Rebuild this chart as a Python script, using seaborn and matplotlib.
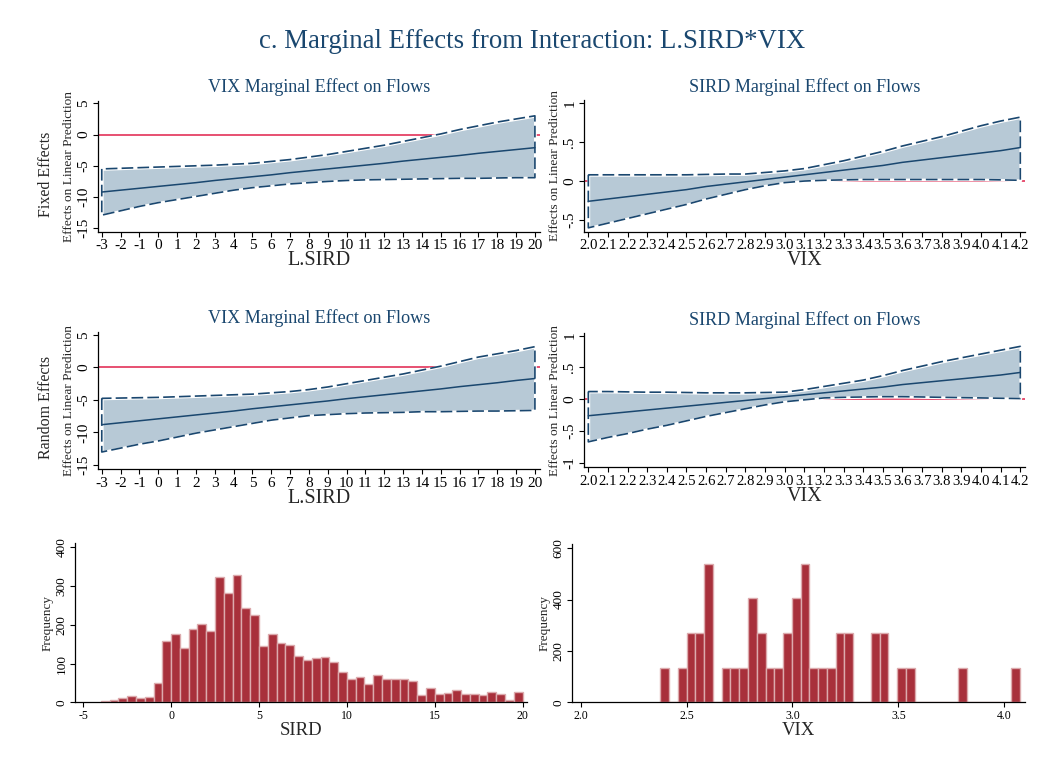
import numpy as np
import pandas as pd
import matplotlib
matplotlib.use("Agg")
import matplotlib.pyplot as plt
import seaborn as sns

# ---------------- data ----------------
sird_x = list(range(-3, 21))
fe_vix_mean = [-9.2, -8.9, -8.6, -8.3, -8.0, -7.7, -7.35, -7.05, -6.75, -6.45, -6.1,
               -5.8, -5.5, -5.2, -4.9, -4.6, -4.25, -3.95, -3.65, -3.35, -3.0, -2.7, -2.4, -2.1]
fe_vix_lo = [-12.9, -12.2, -11.5, -10.9, -10.4, -9.9, -9.4, -8.9, -8.5, -8.2, -7.9, -7.7,
             -7.5, -7.35, -7.25, -7.2, -7.15, -7.1, -7.05, -7.0, -7.0, -6.95, -6.9, -6.9]
fe_vix_hi = [-5.5, -5.4, -5.3, -5.2, -5.1, -5.0, -4.9, -4.75, -4.6, -4.3, -4.0, -3.6,
             -3.2, -2.7, -2.2, -1.7, -1.1, -0.5, 0.1, 0.8, 1.4, 2.0, 2.5, 3.0]

re_vix_mean = [-8.8, -8.5, -8.2, -7.9, -7.6, -7.3, -7.0, -6.7, -6.35, -6.05, -5.75,
               -5.45, -5.15, -4.8, -4.5, -4.2, -3.9, -3.6, -3.3, -2.95, -2.65, -2.35, -2.0, -1.7]
re_vix_lo = [-13.0, -12.4, -11.8, -11.3, -10.7, -10.1, -9.6, -9.1, -8.6, -8.1, -7.75, -7.4,
             -7.25, -7.1, -7.0, -6.95, -6.9, -6.8, -6.8, -6.75, -6.7, -6.7, -6.65, -6.6]
re_vix_hi = [-4.75, -4.7, -4.65, -4.6, -4.5, -4.4, -4.3, -4.2, -4.1, -3.9, -3.7, -3.4,
             -3.0, -2.5, -2.0, -1.5, -1.0, -0.4, 0.2, 0.9, 1.6, 2.1, 2.6, 3.2]

vix_x = [2.0, 2.1, 2.2, 2.3, 2.4, 2.5, 2.6, 2.7, 2.8, 2.9, 3.0, 3.1, 3.2, 3.3, 3.4, 3.5,
         3.6, 3.7, 3.8, 3.9, 4.0, 4.1, 4.2]
fe_sird_mean = [-0.26, -0.23, -0.20, -0.17, -0.14, -0.11, -0.07, -0.04, -0.01, 0.02, 0.05,
                0.08, 0.11, 0.14, 0.17, 0.20, 0.24, 0.27, 0.30, 0.33, 0.36, 0.39, 0.43]
fe_sird_lo = [-0.60, -0.54, -0.48, -0.42, -0.36, -0.30, -0.23, -0.17, -0.11, -0.06, -0.02,
              0.00, 0.01, 0.015, 0.02, 0.02, 0.02, 0.02, 0.02, 0.02, 0.02, 0.015, 0.01]
fe_sird_hi = [0.08, 0.08, 0.08, 0.08, 0.08, 0.08, 0.085, 0.09, 0.09, 0.11, 0.13, 0.16,
              0.21, 0.26, 0.32, 0.38, 0.45, 0.51, 0.57, 0.64, 0.71, 0.77, 0.82]

re_sird_mean = [-0.26, -0.23, -0.20, -0.17, -0.14, -0.11, -0.08, -0.05, -0.02, 0.01, 0.04,
                0.07, 0.10, 0.13, 0.16, 0.19, 0.23, 0.26, 0.29, 0.32, 0.35, 0.38, 0.42]
re_sird_lo = [-0.67, -0.60, -0.54, -0.47, -0.41, -0.34, -0.27, -0.21, -0.15, -0.09, -0.04,
              -0.01, 0.02, 0.03, 0.035, 0.04, 0.04, 0.035, 0.03, 0.025, 0.02, 0.015, 0.01]
re_sird_hi = [0.12, 0.12, 0.115, 0.11, 0.11, 0.105, 0.10, 0.10, 0.10, 0.105, 0.11, 0.15,
              0.20, 0.25, 0.30, 0.37, 0.45, 0.52, 0.59, 0.65, 0.71, 0.77, 0.83]

# SIRD histogram (bin width 0.5, starting at -4)
sird_bin_start = -4.0
sird_bin_width = 0.5
sird_counts = [4, 6, 12, 15, 12, 14, 49, 157, 177, 139, 188, 203, 185, 322, 281, 327,
               244, 224, 144, 177, 152, 148, 120, 109, 114, 118, 104, 79, 59, 65, 46, 70,
               59, 61, 59, 55, 18, 36, 22, 25, 31, 21, 21, 19, 27, 21, 5, 27]

# VIX histogram
vix_bin_start = 2.376
vix_bin_width = 0.0414
vix_counts = [135, 0, 135, 270, 270, 540, 0, 135, 135, 135, 405, 270, 135, 135, 270, 405,
              540, 135, 135, 135, 270, 270, 0, 0, 270, 270, 0, 135, 135, 0, 0, 0, 0, 0,
              135, 0, 0, 0, 0, 0, 135]

# ---------------- style ----------------
sns.set_theme(style="white")
plt.rcParams["font.family"] = ["Liberation Serif", "DejaVu Serif"]
plt.rcParams["mathtext.fontset"] = "stix"

NAVY = "#1a476f"
BAND = "#b7c9d6"
RED = "#e0204a"
BAR = "#a8303b"
BAR_EDGE = "#dcaaad"

W, H = 1054, 776
fig = plt.figure(figsize=(W / 100, H / 100), dpi=100)


def add_ax(x0, y0, x1, y1):
    return fig.add_axes([x0 / W, 1 - y1 / H, (x1 - x0) / W, (y1 - y0) / H])


def style_axes(ax):
    for s in ["top", "right"]:
        ax.spines[s].set_visible(False)
    for s in ["left", "bottom"]:
        ax.spines[s].set_color("black")
        ax.spines[s].set_linewidth(0.9)
    ax.tick_params(axis="both", which="major", direction="out", length=3.5, width=0.8,
                   color="black", labelcolor="black", pad=2, left=True, bottom=True)
    ax.tick_params(axis="y", labelrotation=90)
    for lab in ax.get_yticklabels():
        lab.set_va("center")
    ax.grid(False)
    ax.set_facecolor("white")


def me_panel(ax, x, mean, lo, hi, xlim, ylim, yticks, yticklabels, xticks, xticklabels,
             title, xlabel, tick_fs):
    ax.axhline(0, color=RED, lw=1.1, zorder=1)
    ax.fill_between(x, lo, hi, facecolor=BAND, edgecolor="white", linewidth=2.0, zorder=2)
    ax.fill_between(x, lo, hi, facecolor="none", edgecolor=NAVY, linewidth=1.2,
                    linestyle=(0, (7, 2.5)), zorder=3)
    df = pd.DataFrame({"x": x, "y": mean})
    sns.lineplot(data=df, x="x", y="y", ax=ax, color=NAVY, lw=1.1, zorder=4)
    ax.set_xlim(*xlim)
    ax.set_ylim(*ylim)
    ax.set_xticks(xticks)
    ax.set_xticklabels(xticklabels, fontsize=tick_fs)
    ax.set_yticks(yticks)
    ax.set_yticklabels(yticklabels, fontsize=11)
    ax.set_title(title, color=NAVY, fontsize=13.1, pad=6)
    ax.set_xlabel(xlabel, fontsize=14.5, labelpad=-1)
    ax.set_ylabel("Effects on Linear Prediction", fontsize=9.6, labelpad=2)
    style_axes(ax)


sird_ticks = list(range(-3, 21))
sird_ticklabels = [str(v) for v in sird_ticks]
vix_ticklabels = [f"{v:.1f}" for v in vix_x]

# Row 1: Fixed effects
ax1 = add_ax(98, 100.7, 540, 231.7)
me_panel(ax1, sird_x, fe_vix_mean, fe_vix_lo, fe_vix_hi, (-3.2, 20.27), (-15.55, 5.42),
         [-15, -10, -5, 0, 5], ["-15", "-10", "-5", "0", "5"], sird_ticks, sird_ticklabels,
         "VIX Marginal Effect on Flows", "L.SIRD", 11)

ax2 = add_ax(584, 100, 1025, 231.7)
me_panel(ax2, vix_x, fe_sird_mean, fe_sird_lo, fe_sird_hi, (1.978, 4.224), (-0.65, 1.04),
         [-0.5, 0, 0.5, 1], ["-.5", "0", ".5", "1"], vix_x, vix_ticklabels,
         "SIRD Marginal Effect on Flows", "VIX", 10.6)

# Row 2: Random effects
ax3 = add_ax(98, 331.7, 540, 469.3)
me_panel(ax3, sird_x, re_vix_mean, re_vix_lo, re_vix_hi, (-3.2, 20.27), (-15.66, 5.5),
         [-15, -10, -5, 0, 5], ["-15", "-10", "-5", "0", "5"], sird_ticks, sird_ticklabels,
         "VIX Marginal Effect on Flows", "L.SIRD", 11)

ax4 = add_ax(584, 333, 1025, 467.3)
me_panel(ax4, vix_x, re_sird_mean, re_sird_lo, re_sird_hi, (1.978, 4.224), (-1.07, 1.04),
         [-1, -0.5, 0, 0.5, 1], ["-1", "-.5", "0", ".5", "1"], vix_x, vix_ticklabels,
         "SIRD Marginal Effect on Flows", "VIX", 10.6)

# Row labels
fig.text(46 / W, 1 - 174 / H, "Fixed Effects", rotation=90, ha="center", va="center",
         fontsize=11.5)
fig.text(46 / W, 1 - 407 / H, "Random Effects", rotation=90, ha="center", va="center",
         fontsize=11.5)

# Row 3: histograms
sird_edges = [sird_bin_start + i * sird_bin_width for i in range(len(sird_counts) + 1)]
sird_centers = [sird_bin_start + (i + 0.5) * sird_bin_width for i in range(len(sird_counts))]
vix_edges = [vix_bin_start + i * vix_bin_width for i in range(len(vix_counts) + 1)]
vix_centers = [vix_bin_start + (i + 0.5) * vix_bin_width for i in range(len(vix_counts))]

ax5 = add_ax(75, 543.3, 527, 702.3)
sns.histplot(x=sird_centers, weights=sird_counts, bins=sird_edges, ax=ax5, color=BAR,
             edgecolor=BAR_EDGE, linewidth=1.0, alpha=1)
ax5.set_xlim(-5.47, 20.25)
ax5.set_ylim(0, 410)
ax5.set_xticks([-5, 0, 5, 10, 15, 20])
ax5.set_xticklabels(["-5", "0", "5", "10", "15", "20"], fontsize=8.5)
ax5.set_yticks([0, 100, 200, 300, 400])
ax5.set_yticklabels(["0", "100", "200", "300", "400"], fontsize=9.5)
ax5.set_xlabel("SIRD", fontsize=13.5, labelpad=0)
ax5.set_ylabel("Frequency", fontsize=9.5, labelpad=1)
style_axes(ax5)

ax6 = add_ax(572, 544, 1025, 702.3)
sns.histplot(x=vix_centers, weights=vix_counts, bins=vix_edges, ax=ax6, color=BAR,
             edgecolor=BAR_EDGE, linewidth=1.0, alpha=1)
ax6.set_xlim(1.959, 4.098)
ax6.set_ylim(0, 616)
ax6.set_xticks([2.0, 2.5, 3.0, 3.5, 4.0])
ax6.set_xticklabels(["2.0", "2.5", "3.0", "3.5", "4.0"], fontsize=8.5)
ax6.set_yticks([0, 200, 400, 600])
ax6.set_yticklabels(["0", "200", "400", "600"], fontsize=9.5)
ax6.set_xlabel("VIX", fontsize=13.5, labelpad=0)
ax6.set_ylabel("Frequency", fontsize=9.5, labelpad=1)
style_axes(ax6)

fig.text(532 / W, 1 - 42 / H, "c. Marginal Effects from Interaction: L.SIRD*VIX",
         ha="center", va="center", fontsize=19.3, color=NAVY)

fig.savefig("out.png", dpi=100, facecolor="white")
